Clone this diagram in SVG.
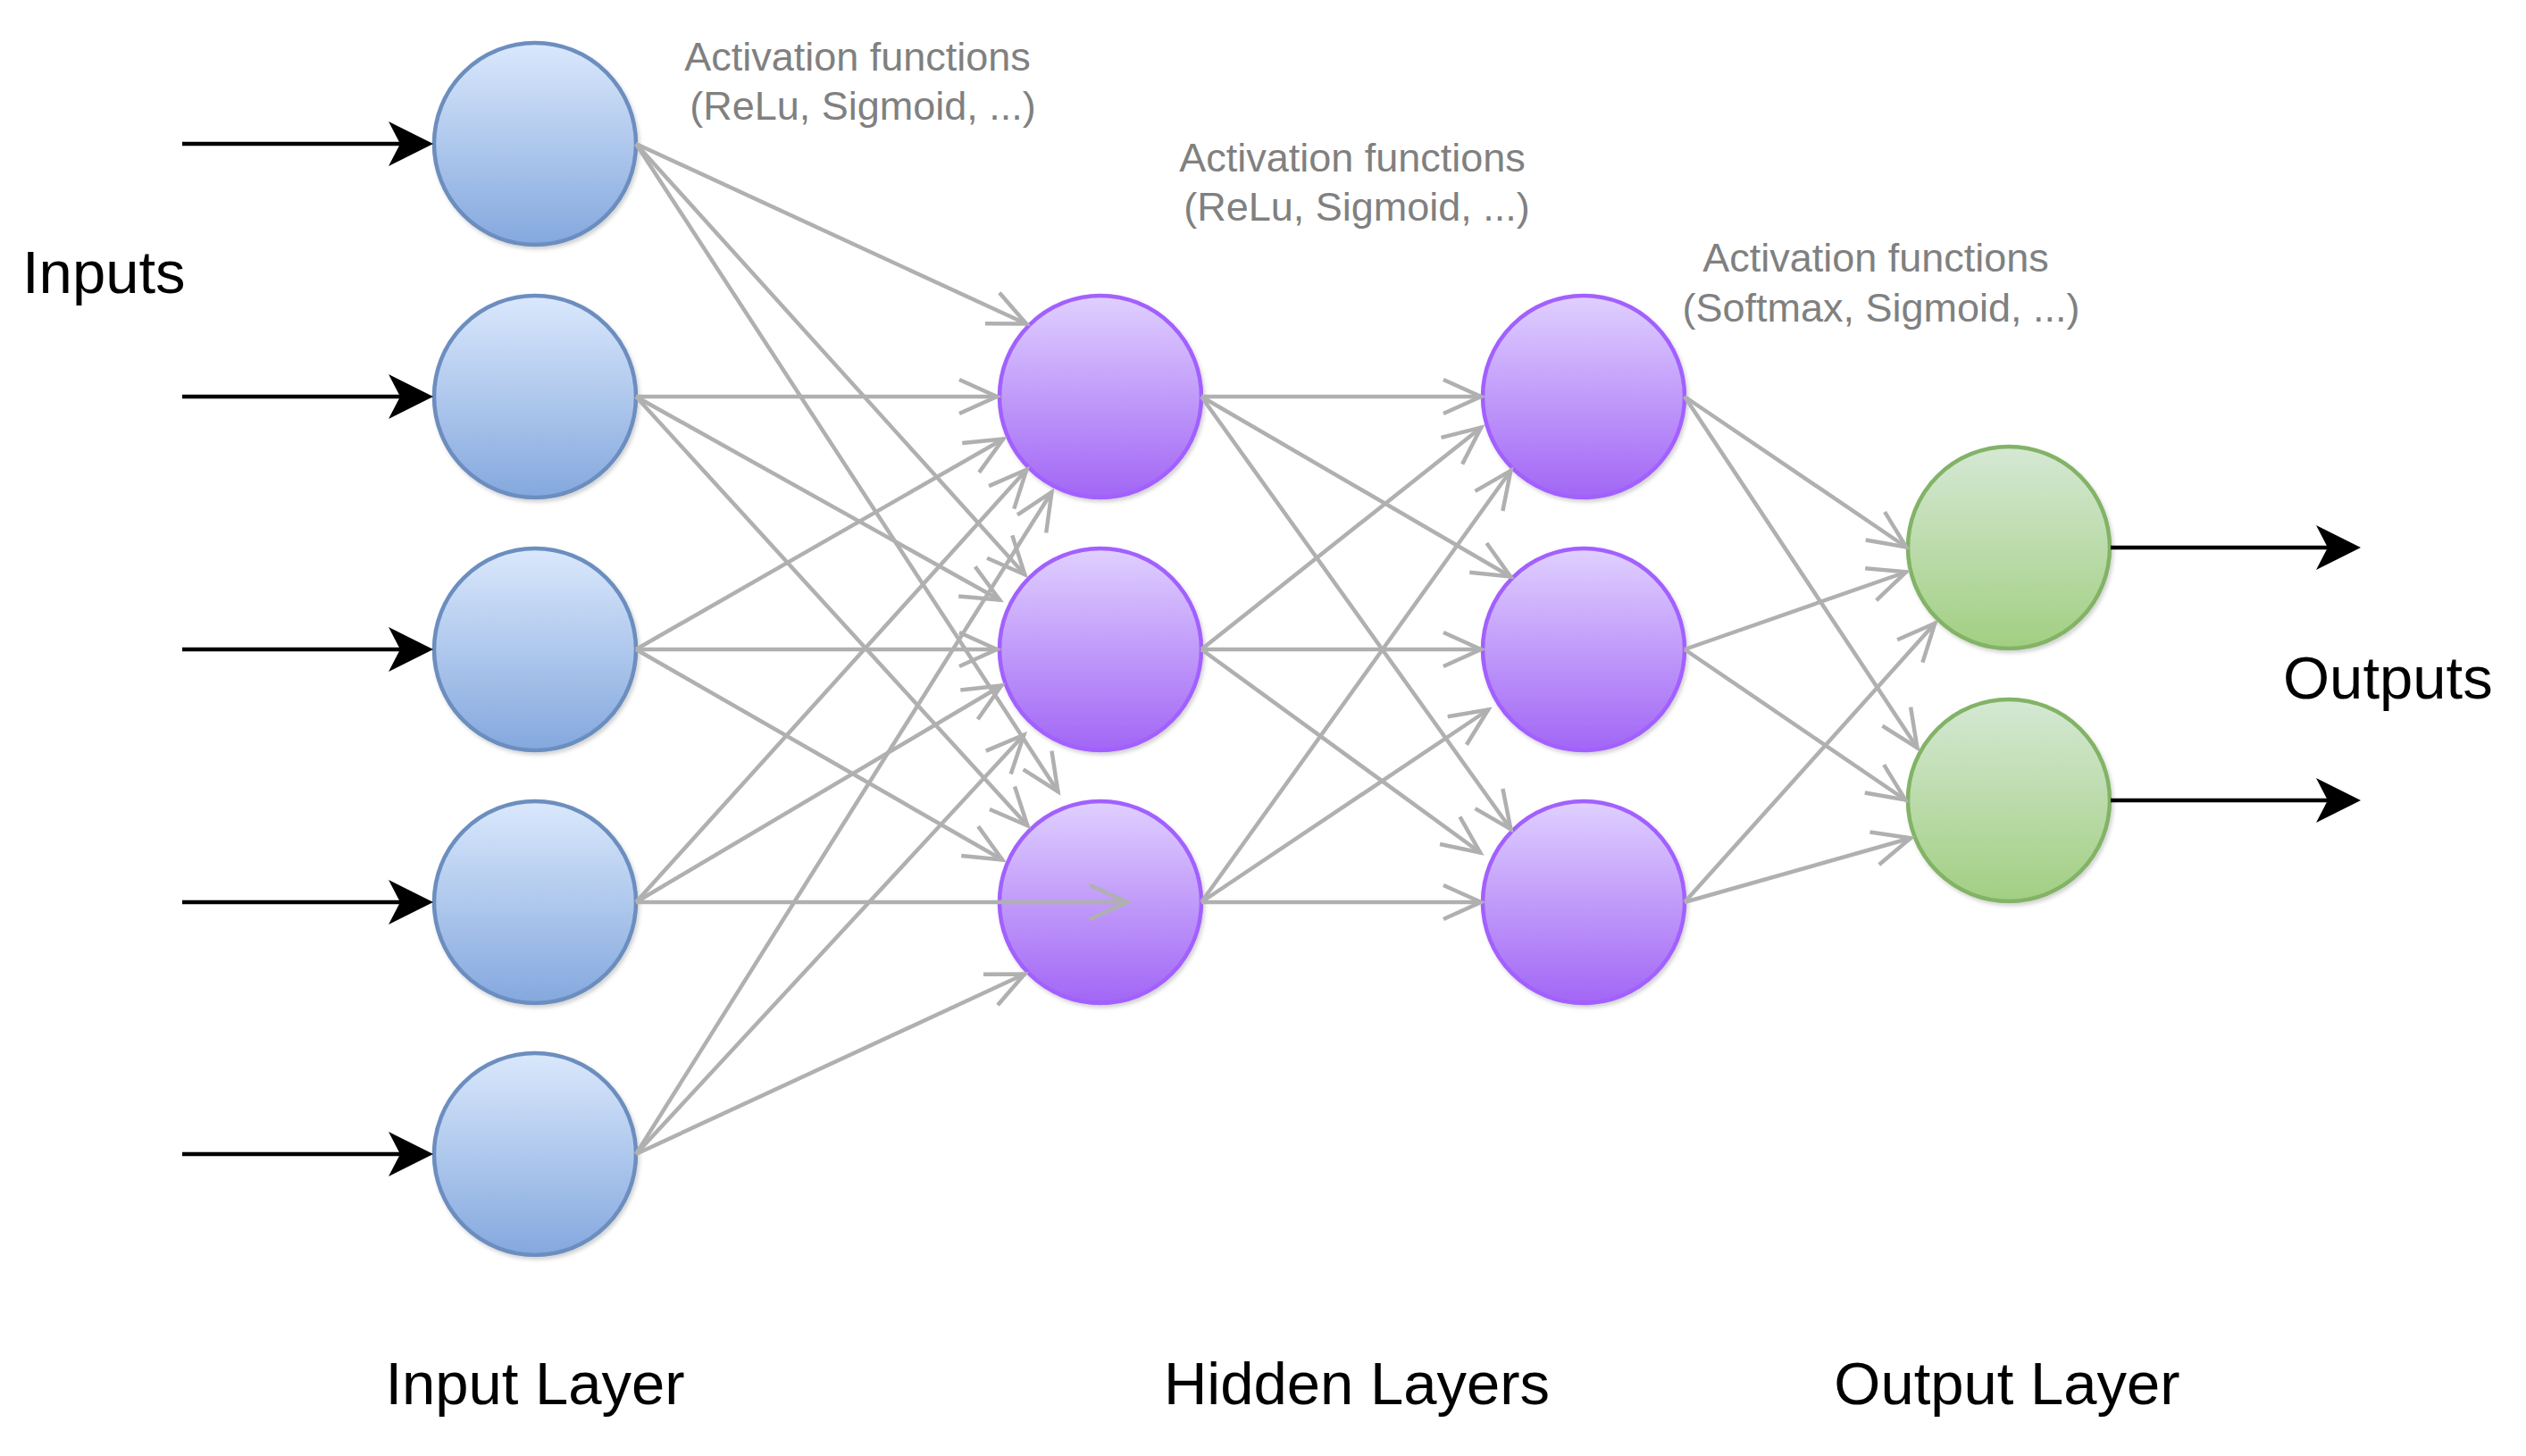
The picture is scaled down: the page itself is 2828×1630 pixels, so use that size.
<svg xmlns="http://www.w3.org/2000/svg" width="2828" height="1630" viewBox="0 0 2828 1630">
<style>
.lbl{font-family:"Liberation Sans",Arial,Helvetica,sans-serif;font-size:67px;fill:#000}
.act{font-family:"Liberation Sans",Arial,Helvetica,sans-serif;font-size:45px;fill:#808080;text-anchor:middle}
.in{fill:url(#gBlue);stroke:#6c8ebf;stroke-width:4.5}
.hid{fill:url(#gPurple);stroke:#a260ff;stroke-width:4.5}
.out{fill:url(#gGreen);stroke:#82b366;stroke-width:4.5}
.node{filter:url(#shadow)}
.gray{stroke:#b0b0b0;stroke-width:4.5;fill:none;marker-end:url(#open)}
.blk{stroke:#000;stroke-width:4.5;fill:none;marker-end:url(#block)}
</style>
<defs>
<linearGradient id="gBlue" x1="0" y1="0" x2="0" y2="1"><stop offset="0" stop-color="#dae8fc"/><stop offset="1" stop-color="#84a8de"/></linearGradient>
<linearGradient id="gPurple" x1="0" y1="0" x2="0" y2="1"><stop offset="0" stop-color="#e0d0ff"/><stop offset="1" stop-color="#a266f5"/></linearGradient>
<linearGradient id="gGreen" x1="0" y1="0" x2="0" y2="1"><stop offset="0" stop-color="#d5e8d4"/><stop offset="1" stop-color="#a2cf82"/></linearGradient>
<filter id="shadow" x="-20%" y="-20%" width="140%" height="140%"><feDropShadow dx="2" dy="3" stdDeviation="2" flood-color="#000" flood-opacity="0.18"/></filter>
<marker id="open" markerUnits="userSpaceOnUse" viewBox="-50 -25 56 50" markerWidth="56" markerHeight="50" refX="0" refY="0" orient="auto">
<path d="M-43,-19 L-1,0 L-43,19" fill="none" stroke="#b0b0b0" stroke-width="4.5"/>
</marker>
<marker id="block" markerUnits="userSpaceOnUse" viewBox="-52 -27 54 54" markerWidth="54" markerHeight="54" refX="-37" refY="0" orient="auto">
<path d="M0,0 L-50,-25 L-37,0 L-50,25 Z" fill="#000"/>
</marker>
</defs>
<rect width="2828" height="1630" fill="#fff"/>

<g id="nodes">
<g id="in1" class="node"><circle class="in" cx="599" cy="161" r="113"/></g>
<g id="in2" class="node"><circle class="in" cx="599" cy="444" r="113"/></g>
<g id="in3" class="node"><circle class="in" cx="599" cy="727" r="113"/></g>
<g id="in4" class="node"><circle class="in" cx="599" cy="1010" r="113"/></g>
<g id="in5" class="node"><circle class="in" cx="599" cy="1292" r="113"/></g>
<g id="h1a" class="node"><circle class="hid" cx="1232" cy="444" r="113"/></g>
<g id="h1b" class="node"><circle class="hid" cx="1232" cy="727" r="113"/></g>
<g id="h1c" class="node"><circle class="hid" cx="1232" cy="1010" r="113"/></g>
<g id="h2a" class="node"><circle class="hid" cx="1773" cy="444" r="113"/></g>
<g id="h2b" class="node"><circle class="hid" cx="1773" cy="727" r="113"/></g>
<g id="h2c" class="node"><circle class="hid" cx="1773" cy="1010" r="113"/></g>
<g id="o1" class="node"><circle class="out" cx="2249" cy="613" r="113"/></g>
<g id="o2" class="node"><circle class="out" cx="2249" cy="896" r="113"/></g>
</g>

<g id="connectors">
<line class="blk" x1="204" y1="161" x2="448" y2="161"/>
<line class="blk" x1="204" y1="444" x2="448" y2="444"/>
<line class="blk" x1="204" y1="727" x2="448" y2="727"/>
<line class="blk" x1="204" y1="1010" x2="448" y2="1010"/>
<line class="blk" x1="204" y1="1292" x2="448" y2="1292"/>
<line class="blk" x1="2363" y1="613" x2="2606" y2="613"/>
<line class="blk" x1="2363" y1="896" x2="2606" y2="896"/>

<line class="gray" x1="712" y1="161" x2="1150" y2="363"/>
<line class="gray" x1="712" y1="444" x2="1117" y2="444"/>
<line class="gray" x1="712" y1="727" x2="1124" y2="491"/>
<line class="gray" x1="712" y1="1010" x2="1150" y2="525"/>
<line class="gray" x1="712" y1="1292" x2="1178" y2="550"/>

<line class="gray" x1="712" y1="161" x2="1148" y2="644"/>
<line class="gray" x1="712" y1="444" x2="1120" y2="672"/>
<line class="gray" x1="712" y1="727" x2="1117" y2="727"/>
<line class="gray" x1="712" y1="1010" x2="1122" y2="767"/>
<line class="gray" x1="712" y1="1292" x2="1147" y2="822"/>

<line class="gray" x1="712" y1="161" x2="1185" y2="887"/>
<line class="gray" x1="712" y1="444" x2="1151" y2="925"/>
<line class="gray" x1="712" y1="727" x2="1123" y2="963"/>
<line class="gray" x1="712" y1="1010" x2="1263" y2="1010"/>
<line class="gray" x1="712" y1="1292" x2="1148" y2="1090"/>

<line class="gray" x1="1345" y1="444" x2="1659" y2="444"/>
<line class="gray" x1="1345" y1="444" x2="1692" y2="646"/>
<line class="gray" x1="1345" y1="444" x2="1692" y2="929"/>
<line class="gray" x1="1345" y1="727" x2="1659" y2="478"/>
<line class="gray" x1="1345" y1="727" x2="1659" y2="727"/>
<line class="gray" x1="1345" y1="727" x2="1658" y2="955"/>
<line class="gray" x1="1345" y1="1010" x2="1692" y2="526"/>
<line class="gray" x1="1345" y1="1010" x2="1667" y2="794"/>
<line class="gray" x1="1345" y1="1010" x2="1659" y2="1010"/>

<line class="gray" x1="1886" y1="444" x2="2135" y2="613"/>
<line class="gray" x1="1886" y1="444" x2="2147" y2="838"/>
<line class="gray" x1="1886" y1="727" x2="2135" y2="640"/>
<line class="gray" x1="1886" y1="727" x2="2134" y2="896"/>
<line class="gray" x1="1886" y1="1010" x2="2167" y2="697"/>
<line class="gray" x1="1886" y1="1010" x2="2140" y2="938"/>
</g>

<g id="labels">
<text class="lbl" x="25" y="328">Inputs</text>
<text class="lbl" x="2556" y="782">Outputs</text>
<text class="lbl" x="599" y="1572" text-anchor="middle">Input Layer</text>
<text class="lbl" x="1519" y="1572" text-anchor="middle">Hidden Layers</text>
<text class="lbl" x="2247" y="1572" text-anchor="middle">Output Layer</text>
<text class="act" x="960" y="79">Activation functions</text>
<text class="act" x="966" y="134">(ReLu, Sigmoid, ...)</text>
<text class="act" x="1514" y="192">Activation functions</text>
<text class="act" x="1519" y="247">(ReLu, Sigmoid, ...)</text>
<text class="act" x="2100" y="304">Activation functions</text>
<text class="act" x="2106" y="360">(Softmax, Sigmoid, ...)</text>
</g>
</svg>
